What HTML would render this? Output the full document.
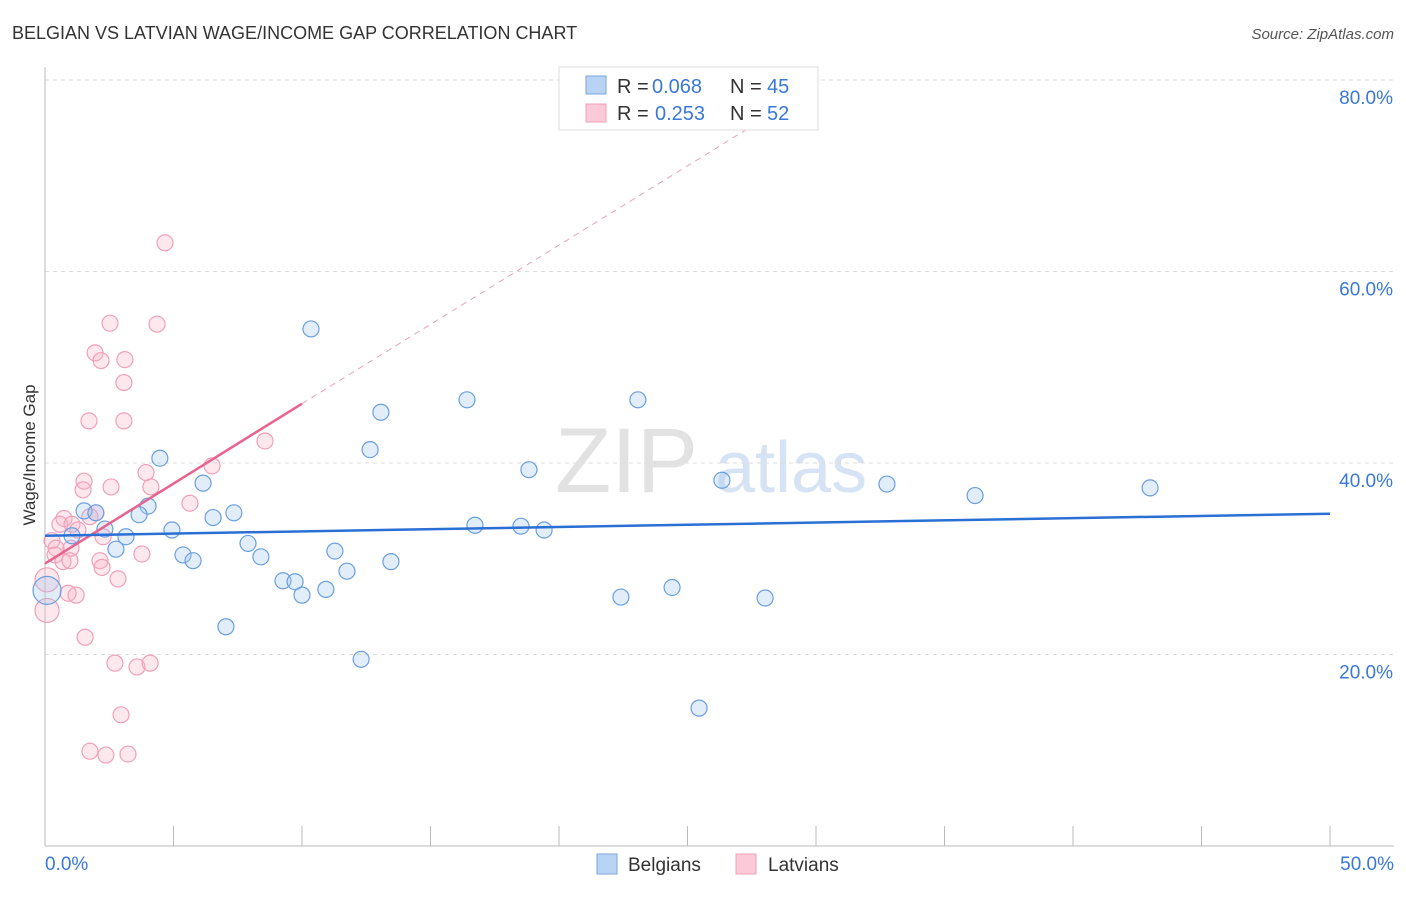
<!DOCTYPE html>
<html><head><meta charset="utf-8">
<style>
body{margin:0;background:#fff;font-family:"Liberation Sans",sans-serif;}
svg text{font-family:"Liberation Sans",sans-serif;}
</style></head>
<body>
<svg id="chart" width="1406" height="892" xmlns="http://www.w3.org/2000/svg">
<text x="12" y="39" font-size="18" fill="#333">BELGIAN VS LATVIAN WAGE/INCOME GAP CORRELATION CHART</text>
<text x="1394" y="39" font-size="15" fill="#555" text-anchor="end" font-style="italic">Source: ZipAtlas.com</text>
<text x="555" y="492" font-size="92" fill="#e2e2e2" font-family="Liberation Serif">ZIP</text>
<text x="715" y="492" font-size="72" fill="#d5e3f5">atlas</text>
<g id="grid"></g>
<g id="marks"></g>
<text x="35" y="455" font-size="17" fill="#333" text-anchor="middle" transform="rotate(-90 35 455)">Wage/Income Gap</text>
<g>
<rect x="559" y="67" width="259" height="63" fill="#fff" stroke="#ddd"/>
<rect x="586" y="76" width="20" height="18" fill="#b9d3f5" stroke="#7aa7e0"/>
<text y="93" font-size="20" fill="#333"><tspan x="617">R =</tspan><tspan x="652" fill="#3a78d8">0.068</tspan><tspan x="730">N =</tspan><tspan x="767" fill="#3a78d8">45</tspan></text>
<rect x="586" y="104" width="20" height="18" fill="#fcc9d8" stroke="#f0a0b8"/>
<text y="120" font-size="20" fill="#333"><tspan x="617">R =</tspan><tspan x="655" fill="#3a78d8">0.253</tspan><tspan x="730">N =</tspan><tspan x="767" fill="#3a78d8">52</tspan></text>
</g>
<g>
<rect x="597" y="854" width="20" height="20" fill="#b9d3f5" stroke="#7aa7e0"/>
<text x="628" y="871" font-size="19" fill="#333">Belgians</text>
<rect x="736" y="854" width="20" height="20" fill="#fcc9d8" stroke="#f0a0b8"/>
<text x="768" y="871" font-size="19" fill="#333">Latvians</text>
</g>
</svg>
<script>
const xTicks=[0,5,10,15,20,25,30,35,40,45,50];
const yTicks=[20,40,60,80];
const yTickLabels=["20.0%","40.0%","60.0%","80.0%"];
const belgX=[10.35,4.47,6.15,4.01,3.66,1.52,1.98,2.33,4.94,6.54,7.35,2.76,3.15,1.05,5.37,5.76,7.90,8.40,9.26,9.73,10.0,10.93,11.28,11.75,13.46,13.07,12.65,12.30,7.04,16.42,16.73,18.83,18.52,19.42,23.07,22.41,24.40,26.34,28.02,25.45,32.76,36.19,43.0,0.08];
const belgY=[54.0,40.5,37.9,35.5,34.6,35.0,34.8,33.1,33.0,34.3,34.8,31.0,32.3,32.4,30.4,29.8,31.6,30.2,27.7,27.6,26.2,26.8,30.8,28.7,29.7,45.3,41.4,19.5,22.9,46.6,33.5,39.3,33.4,33.0,46.6,26.0,27.0,38.2,25.9,14.4,37.8,36.6,37.4,26.7];
const latvX=[4.67,2.53,4.36,1.95,2.18,3.11,3.07,1.71,3.07,8.56,6.50,3.93,1.52,1.48,2.57,4.12,5.64,1.98,1.75,0.74,0.58,1.05,1.28,2.26,0.27,0.43,1.01,2.14,0.39,0.70,0.97,2.22,3.77,2.84,1.21,0.90,1.56,2.72,3.58,4.09,2.96,1.75,2.37,3.23,0.08,0.08];
const latvY=[63.0,54.6,54.5,51.5,50.7,50.8,48.4,44.4,44.4,42.3,39.7,39.0,38.1,37.2,37.5,37.5,35.8,34.8,34.4,34.2,33.6,33.6,33.0,32.3,31.9,31.1,31.1,29.8,30.4,29.7,29.8,29.1,30.5,27.9,26.2,26.4,21.8,19.1,18.7,19.1,13.7,9.9,9.5,9.6,24.6,27.8];
const belgTrend=[[0,32.4],[50,34.7]];
const latvTrend=[[0,29.5],[10,46.2]];
const latvTrendExt=[[10,46.2],[28,76.0]];
const NS="http://www.w3.org/2000/svg";
const X=v=>45+v/50*1285, Y=v=>846-v/20*191.5;
function mk(t,a,p){const e=document.createElementNS(NS,t);for(const k in a)e.setAttribute(k,a[k]);p.appendChild(e);return e;}
const g=document.getElementById('grid'),m=document.getElementById('marks');
yTicks.forEach((v,i)=>{
 const l=mk('line',{x1:45,x2:1394,y1:Y(v),y2:Y(v),stroke:'#ddd','stroke-dasharray':'4,4'},g);
 
 
 const t=mk('text',{x:1393,y:Y(v)+24,'font-size':19,fill:'#3a78d8','text-anchor':'end'},g);
 t.textContent=yTickLabels[i];
 
 
});
const ax=mk('line',{x1:45,x2:45,y1:67,y2:846,stroke:'#bbb'},g);


const bx=mk('line',{x1:45,x2:1394,y1:846,y2:846,stroke:'#bbb'},g);


xTicks.forEach(v=>{
 const l=mk('line',{x1:X(v),x2:X(v),y1:826,y2:846,stroke:'#bbb'},g);
 
 
});
const t0=mk('text',{x:45,y:870,'font-size':19,fill:'#3a78d8'},g);t0.textContent='0.0%';


const t1=mk('text',{x:1394,y:870,'font-size':19,fill:'#3a78d8','text-anchor':'end'},g);t1.textContent='50.0%';


latvX.forEach((v,i)=>{
 const big=i>=latvX.length-2;
 const c=mk('circle',{cx:X(v),cy:Y(latvY[i]),r:big?12:8,fill:'rgba(248,180,200,0.3)',stroke:'#f0a0b8','stroke-width':1.2},m);
 
 
});
belgX.forEach((v,i)=>{
 const big=i==belgX.length-1;
 const c=mk('circle',{cx:X(v),cy:Y(belgY[i]),r:big?14:8,fill:'rgba(160,195,240,0.3)',stroke:'#6a9fe0','stroke-width':1.2},m);
 
 
});
const le=mk('line',{x1:X(latvTrendExt[0][0]),y1:Y(latvTrendExt[0][1]),x2:X(latvTrendExt[1][0]),y2:Y(latvTrendExt[1][1]),stroke:'#f0a0b8','stroke-width':1,'stroke-dasharray':'6,5'},m);


const lt=mk('line',{x1:X(latvTrend[0][0]),y1:Y(latvTrend[0][1]),x2:X(latvTrend[1][0]),y2:Y(latvTrend[1][1]),stroke:'#e8648e','stroke-width':2.5},m);


const bt=mk('line',{x1:X(belgTrend[0][0]),y1:Y(belgTrend[0][1]),x2:X(belgTrend[1][0]),y2:Y(belgTrend[1][1]),stroke:'#2a6fd4','stroke-width':2.5},m);


</script>
</body></html>
